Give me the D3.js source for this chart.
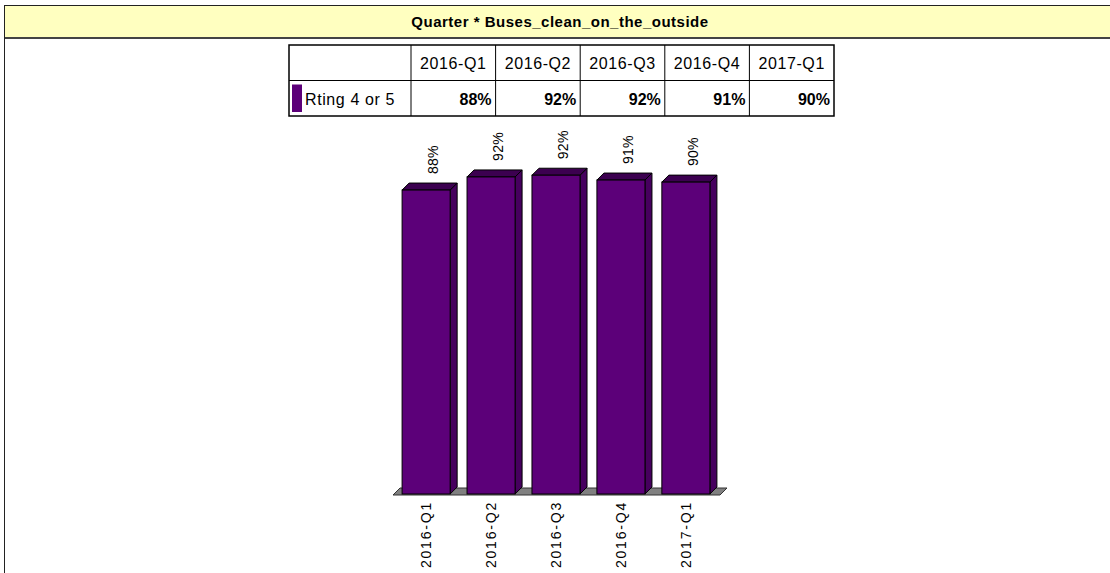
<!DOCTYPE html>
<html>
<head>
<meta charset="utf-8">
<script src="https://cdn.jsdelivr.net/npm/d3@7"></script>
<style>
  body { margin: 0; background: #fff; }
  svg { display: block; font-family: "Liberation Sans", Arial, sans-serif; }
</style>
</head>
<body>
<div id="chart"></div>
<script>
var title = 'Quarter * Buses_clean_on_the_outside';
var seriesName = 'Rting 4 or 5';
var quarters = ['2016-Q1', '2016-Q2', '2016-Q3', '2016-Q4', '2017-Q1'];
var values = [88.1, 91.9, 92.4, 91.0, 90.4];

const width = 1110;
const height = 573;
const depth = 7;
const purple = '#5c0079';

const svg = d3.select('#chart')
    .append('svg')
    .attr('width', width)
    .attr('height', height);

// title band
svg.append('rect')
    .attr('x', 4).attr('y', 5)
    .attr('width', width - 4).attr('height', 33)
    .attr('fill', '#ffffc0');
svg.append('line')
    .attr('x1', 4).attr('x2', width).attr('y1', 5.5).attr('y2', 5.5)
    .attr('stroke', '#222').attr('stroke-width', 1);
svg.append('line')
    .attr('x1', 4).attr('x2', width).attr('y1', 38).attr('y2', 38)
    .attr('stroke', '#444').attr('stroke-width', 2);
svg.append('line')
    .attr('x1', 4.5).attr('x2', 4.5).attr('y1', 5).attr('y2', height)
    .attr('stroke', '#222').attr('stroke-width', 1);
svg.append('text')
    .attr('x', 560).attr('y', 27)
    .attr('text-anchor', 'middle')
    .style('font-size', '15px')
    .style('font-weight', 'bold')
    .style('letter-spacing', '0.5px')
    .text(title);

// data table
var tLeft = 289, tRight = 834, tTop = 45, rowH = 35.5, firstCol = 122;
var colX = d3.scaleBand().domain(quarters).range([tLeft + firstCol, tRight]);
var table = svg.append('g');
table.append('rect')
    .attr('x', tLeft).attr('y', tTop)
    .attr('width', tRight - tLeft).attr('height', rowH * 2)
    .attr('fill', 'none').attr('stroke', '#000').attr('stroke-width', 1.5);
table.append('line')
    .attr('x1', tLeft).attr('x2', tRight)
    .attr('y1', tTop + rowH).attr('y2', tTop + rowH)
    .attr('stroke', '#000');
table.selectAll('.vline')
    .data(quarters)
    .join('line')
    .attr('class', 'vline')
    .attr('x1', d => colX(d)).attr('x2', d => colX(d))
    .attr('y1', tTop).attr('y2', tTop + rowH * 2)
    .attr('stroke', '#000');
table.selectAll('.head')
    .data(quarters)
    .join('text')
    .attr('class', 'head')
    .attr('x', d => colX(d) + colX.bandwidth() / 2)
    .attr('y', tTop + 24)
    .attr('text-anchor', 'middle')
    .style('font-size', '16px')
    .style('letter-spacing', '0.6px')
    .text(d => d);
table.selectAll('.val')
    .data(values)
    .join('text')
    .attr('class', 'val')
    .attr('x', (d, i) => colX(quarters[i]) + colX.bandwidth() - 4)
    .attr('y', tTop + rowH + 24)
    .attr('text-anchor', 'end')
    .style('font-size', '16px')
    .style('font-weight', 'bold')
    .text(d => Math.round(d) + '%');
table.append('rect')
    .attr('x', tLeft + 3).attr('y', tTop + rowH + 4)
    .attr('width', 10).attr('height', rowH - 8)
    .attr('fill', purple);
table.append('text')
    .attr('x', tLeft + 16).attr('y', tTop + rowH + 24)
    .style('font-size', '16px')
    .style('letter-spacing', '0.6px')
    .text(seriesName);

// 3d bars
var xScale = d3.scaleBand().domain(quarters).range([393, 719]).paddingInner(0.26).paddingOuter(0.14);
var yScale = d3.scaleLinear().domain([0, 100]).range([494, 149]);
var base = yScale(0);
var bw = xScale.bandwidth();

svg.append('polygon')
    .attr('points', [[393, base + 1], [720, base + 1], [720 + depth, base + 1 - depth], [393 + depth, base + 1 - depth]].join(' '))
    .attr('fill', '#808080').attr('stroke', '#333').attr('stroke-width', 1);

var bars = svg.selectAll('.bar')
    .data(values)
    .join('g')
    .attr('class', 'bar');
bars.append('polygon')
    .attr('points', function(d, i){
        var x = xScale(quarters[i]), y = yScale(d);
        return [[x + bw, y], [x + bw + depth, y - depth], [x + bw + depth, base - depth], [x + bw, base]].join(' ');
    })
    .attr('fill', '#46005e').attr('stroke', '#000');
bars.append('polygon')
    .attr('points', function(d, i){
        var x = xScale(quarters[i]), y = yScale(d);
        return [[x, y], [x + depth, y - depth], [x + bw + depth, y - depth], [x + bw, y]].join(' ');
    })
    .attr('fill', '#3c0050').attr('stroke', '#000');
bars.append('rect')
    .attr('x', (d, i) => xScale(quarters[i]))
    .attr('y', d => yScale(d))
    .attr('width', bw)
    .attr('height', d => base - yScale(d))
    .attr('fill', purple).attr('stroke', '#000');

// value labels
svg.selectAll('.vlab')
    .data(values)
    .join('text')
    .attr('class', 'vlab')
    .attr('transform', (d, i) => 'translate(' + (xScale(quarters[i]) + bw / 2 + 12) + ',' + (yScale(d) - depth - 9) + ') rotate(-90)')
    .style('font-size', '14px')
    .style('letter-spacing', '0.3px')
    .text(d => Math.round(d) + '%');

// category labels
svg.selectAll('.xlab')
    .data(quarters)
    .join('text')
    .attr('class', 'xlab')
    .attr('transform', d => 'translate(' + (xScale(d) + bw / 2 + 5) + ',' + (base + 7) + ') rotate(-90)')
    .attr('text-anchor', 'end')
    .style('font-size', '14px')
    .style('letter-spacing', '1.8px')
    .text(d => d);
</script>
</body>
</html>
